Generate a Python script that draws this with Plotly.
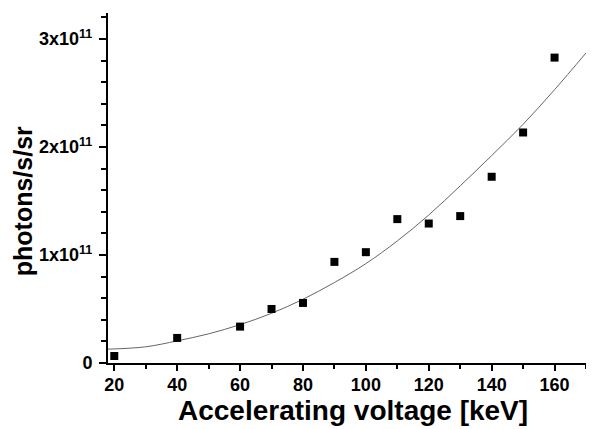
import plotly.graph_objects as go

voltage_kev = [20, 40, 60, 70, 80, 90, 100, 110, 120, 130, 140, 150, 160]
photons = [0.065e11, 0.232e11, 0.337e11, 0.50e11, 0.556e11, 0.936e11, 1.026e11,
           1.332e11, 1.291e11, 1.36e11, 1.724e11, 2.134e11, 2.827e11]

# fitted curve
fit_voltage = [18, 30, 40, 50, 60, 70, 80, 90, 100, 110, 120, 130, 140, 150, 160, 170]
fit_photons = [0.128e11, 0.15e11, 0.205e11, 0.27e11, 0.355e11, 0.46e11, 0.59e11, 0.745e11,
               0.92e11, 1.13e11, 1.37e11, 1.64e11, 1.92e11, 2.21e11, 2.53e11, 2.87e11]

x_tick_vals = [20, 40, 60, 80, 100, 120, 140, 160]
y_tick_vals = [0, 1e11, 2e11, 3e11]
y_tick_text = ["0", "1x10<sup>11</sup>", "2x10<sup>11</sup>", "3x10<sup>11</sup>"]

x_title = "Accelerating voltage [keV]"
y_title = "photons/s/sr"

fig = go.Figure()
fig.add_trace(go.Scatter(x=fit_voltage, y=fit_photons, mode="lines",
                         line=dict(color="#666666", width=1, shape="spline"),
                         showlegend=False, hoverinfo="skip"))
fig.add_trace(go.Scatter(x=voltage_kev, y=photons, mode="markers",
                         marker=dict(symbol="square", size=8, color="black"),
                         showlegend=False))

font_family = "Liberation Sans, Arial, sans-serif"
fig.update_layout(
    width=594, height=429,
    margin=dict(l=100, r=16, t=5, b=74),
    paper_bgcolor="white", plot_bgcolor="white",
    font=dict(family=font_family, color="black"),
    xaxis=dict(
        range=[18, 170], tickmode="array", tickvals=x_tick_vals,
        ticks="outside", ticklen=6, tickwidth=1.5, tickcolor="black",
        minor=dict(dtick=10, tick0=0, ticks="outside", ticklen=4, tickwidth=1.5, tickcolor="black"),
        showline=True, linecolor="black", linewidth=2, showgrid=False, zeroline=False,
        tickfont=dict(size=18, family=font_family, weight="bold"),
        ticklabelstandoff=-2,
    ),
    yaxis=dict(
        range=[0, 3.24e11], tickmode="array", tickvals=y_tick_vals, ticktext=y_tick_text,
        ticks="outside", ticklen=7, tickwidth=1.5, tickcolor="black",
        minor=dict(dtick=0.2e11, tick0=0, ticks="outside", ticklen=5, tickwidth=1.5, tickcolor="black"),
        showline=True, linecolor="black", linewidth=2, showgrid=False, zeroline=False,
        tickfont=dict(size=18, family=font_family, weight="bold"),
        ticklabelstandoff=3,
    ),
    annotations=[
        dict(text="<b>" + x_title + "</b>", xref="paper", yref="paper",
             x=0.5126, y=-0.137, xanchor="center", yanchor="middle", showarrow=False,
             font=dict(size=28, family=font_family, color="black")),
        dict(text="<b>" + y_title + "</b>", xref="paper", yref="paper",
             x=-0.178, y=0.462, xanchor="center", yanchor="middle", showarrow=False,
             textangle=-90, font=dict(size=25, family=font_family, color="black")),
    ],
)

fig.write_html("out.html")
